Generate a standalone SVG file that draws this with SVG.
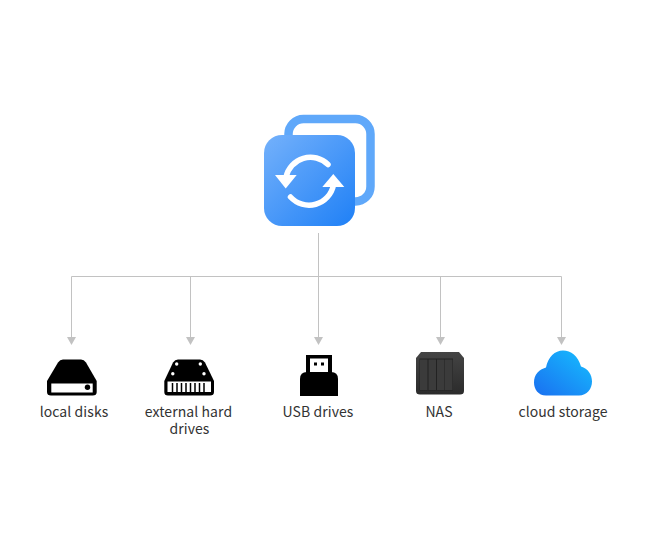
<svg xmlns="http://www.w3.org/2000/svg" width="648" height="550" viewBox="0 0 648 550">
<style>
.lbl{font-family:"Noto Sans CJK SC","Noto Sans",sans-serif;font-size:14px;fill:#333;text-anchor:middle;letter-spacing:.08px}
.ln{fill:none;stroke:#c2c2c2;stroke-width:1}
.ar{fill:none;stroke:#fff;stroke-width:5.500;stroke-linecap:round}
.bay{fill:#3b3b3b}
</style>
<defs>
<linearGradient id="gf" x1="0" y1="0" x2="1" y2="1"><stop offset="0" stop-color="#74b1fb"/><stop offset="1" stop-color="#1f80f6"/></linearGradient>
<linearGradient id="gc" x1="0" y1="1" x2="1" y2="0"><stop offset="0" stop-color="#1a6ff0"/><stop offset="1" stop-color="#16c0ff"/></linearGradient>
<linearGradient id="gn" x1="0" y1="0" x2="0" y2="1"><stop offset="0" stop-color="#444"/><stop offset="1" stop-color="#2b2b2b"/></linearGradient>
</defs>
<g id="connectors">
<path class="ln" d="M318.500 233V276.500"/>
<path class="ln" d="M71.500 337V276.500H561.500V337"/>
<path class="ln" d="M190.500 276.500V337M318.500 276.500V337M440.500 276.500V337"/>
<path d="M67 337H76L71.500 345Z M186 337H195L190.500 345Z M314 337H323L318.500 345Z M436 337H445L440.500 345Z M557 337H566L561.500 345Z" fill="#c2c2c2"/>
</g>
<g id="sync-app">
<rect x="288.500" y="119" width="82" height="82.500" rx="15" fill="#fff" stroke="#5fa8fa" stroke-width="8.500"/>
<rect x="264" y="135" width="91" height="91" rx="18" fill="url(#gf)"/>
<path class="ar" d="M328 164.500A25 25 0 0 0 286 177"/>
<path d="M275 175H296.700L285.700 188.500Z" fill="#fff"/>
<path class="ar" d="M290.500 197A25 25 0 0 0 333.500 185"/>
<path d="M322.300 187H344.300L333.300 174Z" fill="#fff"/>
</g>
<g id="local-disks">
<path d="M47 392V381L58 362.500Q60 359.500 63 359.500H81Q84 359.500 86 362.500L96.700 381V392Q96.700 395.500 92.700 395.500H51Q47 395.500 47 392Z" fill="#000"/>
<rect x="51.300" y="383.500" width="41.400" height="9" fill="#fff"/>
<circle cx="87.500" cy="387.300" r="2.700" fill="#000"/>
</g>
<g id="external-hard-drives">
<path d="M164.300 392V381L173 362.500Q175 359.500 178 359.500H200Q203 359.500 205 362.500L214 381V392Q214 395.500 210 395.500H168Q164.300 395.500 164.300 392Z" fill="#000"/>
<rect x="167.500" y="381.500" width="43.500" height="10.500" fill="#fff"/>
<path d="M172.500 383V392M177 383V392M181.500 383V392M186 383V392M190.500 383V392M195 383V392M199.500 383V392M204 383V392" stroke="#000" stroke-width="1.500"/>
<circle cx="176.700" cy="364" r="1.700" fill="#fff"/><circle cx="200.300" cy="364" r="1.700" fill="#fff"/>
<circle cx="172.800" cy="373.700" r="1.700" fill="#fff"/><circle cx="204" cy="373.700" r="1.700" fill="#fff"/>
</g>
<g id="usb-drives">
<rect x="306" y="355" width="26" height="18" fill="#000"/>
<rect x="310" y="358.500" width="18" height="14" fill="#fff"/>
<rect x="314" y="362.500" width="3" height="3" fill="#000"/><rect x="321" y="362.500" width="3" height="3" fill="#000"/>
<path d="M300 396V379Q300 372 307 372H331Q338 372 338 379V396Z" fill="#000"/>
</g>
<g id="nas">
<path d="M416 358L421 352H459L464 358V391Q464 394.500 460 394.500H420Q416 394.500 416 391Z" fill="url(#gn)"/>
<rect x="419.500" y="358.500" width="33.500" height="32" fill="#222"/>
<rect class="bay" x="420" y="359.500" width="7.500" height="30.500"/><rect class="bay" x="428.500" y="359.500" width="7.500" height="30.500"/><rect class="bay" x="437" y="359.500" width="7.500" height="30.500"/><rect class="bay" x="445" y="359.500" width="7.500" height="30.500"/>
</g>
<g id="cloud-storage">
<path d="M546 395.500C538 395.500 534 389 534 382.500C534 374.500 539 369.500 546 367.500C548 357 555 350.500 563 350.500C571 350.500 578 356 581 366.500C588 368.500 592 374.500 592 381.500C592 389 587 395.500 579 395.500Z" fill="url(#gc)"/>
</g>
<g id="labels">
<text class="lbl" x="74" y="417">local disks</text>
<text class="lbl" x="188.500" y="417">external hard</text>
<text class="lbl" x="189.500" y="434">drives</text>
<text class="lbl" x="318" y="417">USB drives</text>
<text class="lbl" x="439" y="417">NAS</text>
<text class="lbl" x="563" y="417">cloud storage</text>
</g>
</svg>
